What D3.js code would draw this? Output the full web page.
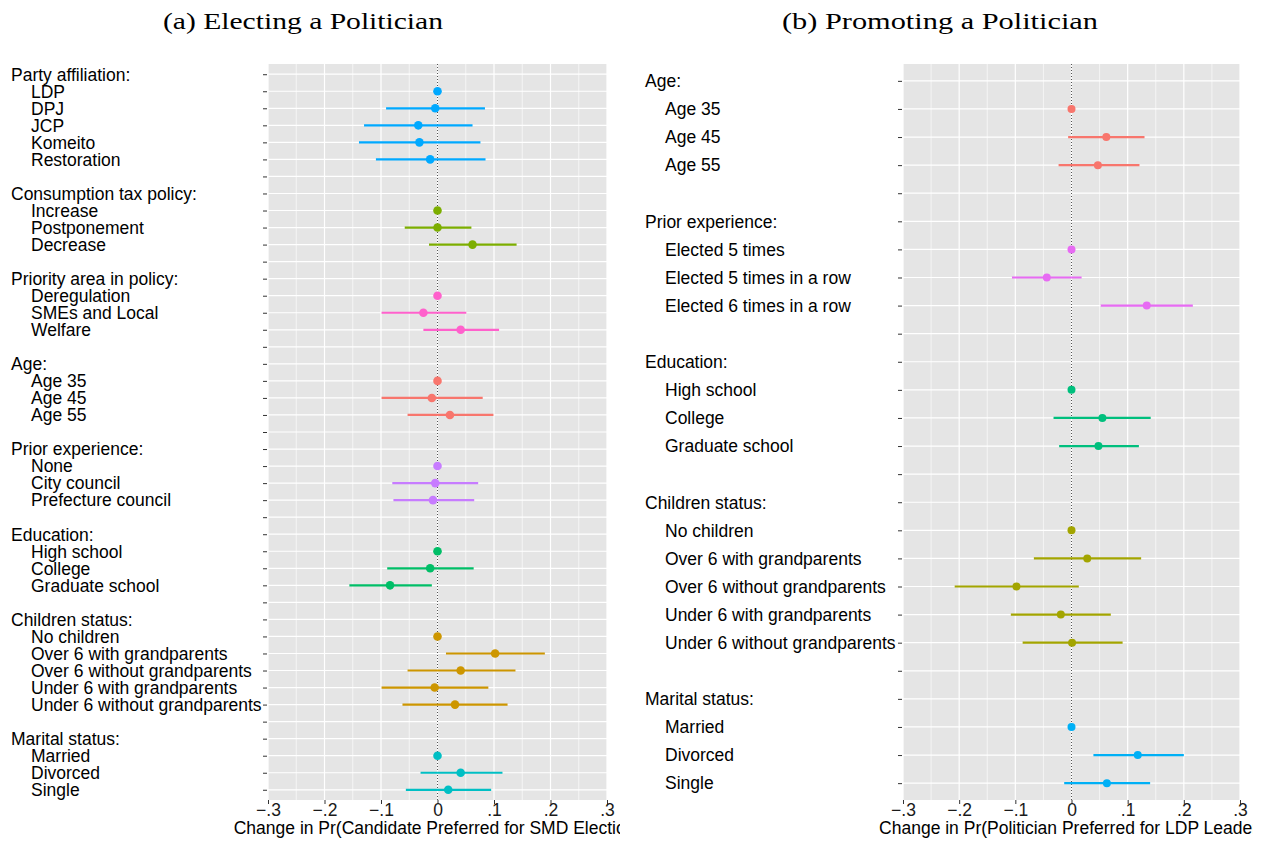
<!DOCTYPE html>
<html>
<head>
<meta charset="utf-8">
<script src="https://cdn.jsdelivr.net/npm/d3@7"></script>
<style>
  body { margin: 0; background: #fff; }
  svg text { font-family: "Liberation Sans", Arial, Helvetica, sans-serif; }
</style>
</head>
<body>
<svg id="chart" width="1263" height="841"></svg>
<script>
// ---- Panel (a): electing a politician ----
const electGroups = [
  "Party affiliation:", "Consumption tax policy:", "Priority area in policy:", "Age:",
  "Prior experience:", "Education:", "Children status:", "Marital status:"
];
const electLevels = [
  ["LDP", "DPJ", "JCP", "Komeito", "Restoration"],
  ["Increase", "Postponement", "Decrease"],
  ["Deregulation", "SMEs and Local", "Welfare"],
  ["Age 35", "Age 45", "Age 55"],
  ["None", "City council", "Prefecture council"],
  ["High school", "College", "Graduate school"],
  ["No children", "Over 6 with grandparents", "Over 6 without grandparents", "Under 6 with grandparents", "Under 6 without grandparents"],
  ["Married", "Divorced", "Single"]
];
const electEst = [
  [0, -0.004, -0.034, -0.032, -0.013],
  [0, 0.000, 0.062],
  [0, -0.025, 0.041],
  [0, -0.010, 0.022],
  [0, -0.004, -0.008],
  [0, -0.013, -0.084],
  [0, 0.102, 0.041, -0.005, 0.031],
  [0, 0.041, 0.019]
];
const electLow = [
  [0, -0.091, -0.130, -0.139, -0.109],
  [0, -0.058, -0.015],
  [0, -0.099, -0.025],
  [0, -0.099, -0.053],
  [0, -0.080, -0.078],
  [0, -0.089, -0.156],
  [0, 0.015, -0.053, -0.099, -0.062],
  [0, -0.030, -0.056]
];
const electHigh = [
  [0, 0.084, 0.062, 0.076, 0.085],
  [0, 0.060, 0.140],
  [0, 0.051, 0.109],
  [0, 0.080, 0.099],
  [0, 0.072, 0.065],
  [0, 0.064, -0.010],
  [0, 0.190, 0.138, 0.090, 0.124],
  [0, 0.115, 0.095]
];
const electColors = ["#00A9FF", "#7CAE00", "#FF61CC", "#F8766D", "#C77CFF", "#00BE67", "#CD9600", "#00BFC4"];

// ---- Panel (b): promoting a politician ----
const promoteGroups = ["Age:", "Prior experience:", "Education:", "Children status:", "Marital status:"];
const promoteLevels = [
  ["Age 35", "Age 45", "Age 55"],
  ["Elected 5 times", "Elected 5 times in a row", "Elected 6 times in a row"],
  ["High school", "College", "Graduate school"],
  ["No children", "Over 6 with grandparents", "Over 6 without grandparents", "Under 6 with grandparents", "Under 6 without grandparents"],
  ["Married", "Divorced", "Single"]
];
const promoteEst = [
  [0, 0.062, 0.047],
  [0, -0.044, 0.134],
  [0, 0.055, 0.048],
  [0, 0.028, -0.098, -0.019, 0.001],
  [0, 0.118, 0.063]
];
const promoteLow = [
  [0, -0.006, -0.023],
  [0, -0.106, 0.052],
  [0, -0.032, -0.022],
  [0, -0.067, -0.208, -0.108, -0.087],
  [0, 0.039, -0.013]
];
const promoteHigh = [
  [0, 0.130, 0.121],
  [0, 0.018, 0.216],
  [0, 0.141, 0.120],
  [0, 0.124, 0.013, 0.070, 0.091],
  [0, 0.200, 0.140]
];
const promoteColors = ["#F8766D", "#E76BF3", "#00BF7D", "#A3A500", "#00B0F6"];

// ---- Shared x axis ----
const xDomain = [-0.3, 0.3];
const xTicks = [-0.3, -0.2, -0.1, 0, 0.1, 0.2, 0.3];
const xTickLabels = ["\u2212.3", "\u2212.2", "\u2212.1", "0", ".1", ".2", ".3"];
const xMinorTicks = [-0.25, -0.15, -0.05, 0.05, 0.15, 0.25];

// Flatten groups into rows: a header row, one row per level, and a spacer between groups
function buildRows(groups, levels, est, low, high) {
  const rows = [];
  groups.forEach((name, gi) => {
    if (gi > 0) rows.push({ key: "s" + gi, type: "spacer", group: gi });
    rows.push({ key: "h" + gi, type: "header", label: name, group: gi });
    levels[gi].forEach((lv, li) => {
      rows.push({
        key: "l" + gi + "_" + li, type: "level", label: lv, group: gi,
        est: est[gi][li], lo: low[gi][li], hi: high[gi][li], ref: li === 0
      });
    });
  });
  return rows;
}

const svg = d3.select("#chart");
const FONT = "17.5px";

function drawPanel(cfg) {
  const g = svg.append("g");
  const x = d3.scaleLinear().domain(xDomain).range([cfg.x0, cfg.x1]);
  const y = d3.scalePoint().domain(cfg.rows.map(d => d.key)).range([cfg.y0, cfg.y1]).padding(0.6);

  // title
  g.append("text")
    .attr("x", cfg.titleX).attr("y", 29)
    .attr("text-anchor", "middle")
    .attr("textLength", cfg.titleW).attr("lengthAdjust", "spacingAndGlyphs")
    .style("font-family", "'Liberation Serif', 'Times New Roman', serif")
    .style("font-size", "24px").attr("fill", "#000")
    .text(cfg.title);

  // panel background
  g.append("rect")
    .attr("x", cfg.x0).attr("y", cfg.y0)
    .attr("width", cfg.x1 - cfg.x0).attr("height", cfg.y1 - cfg.y0)
    .attr("fill", "#E5E5E5");

  // vertical grid: minor then major
  g.selectAll(".vminor").data(xMinorTicks).join("line")
    .attr("x1", d => x(d)).attr("x2", d => x(d))
    .attr("y1", cfg.y0).attr("y2", cfg.y1)
    .attr("stroke", "#fff").attr("stroke-width", 0.6);
  g.selectAll(".vmajor").data(xTicks).join("line")
    .attr("x1", d => x(d)).attr("x2", d => x(d))
    .attr("y1", cfg.y0).attr("y2", cfg.y1)
    .attr("stroke", "#fff").attr("stroke-width", 1.2);

  // horizontal grid at every row
  g.selectAll(".hgrid").data(cfg.rows).join("line")
    .attr("x1", cfg.x0).attr("x2", cfg.x1)
    .attr("y1", d => y(d.key)).attr("y2", d => y(d.key))
    .attr("stroke", "#fff").attr("stroke-width", 1.2);

  // reference line at zero
  g.append("line")
    .attr("x1", x(0)).attr("x2", x(0))
    .attr("y1", cfg.y0).attr("y2", cfg.y1)
    .attr("stroke", "#555").attr("stroke-width", 1)
    .attr("stroke-dasharray", "1,2");

  // y ticks (labels are drawn separately, left aligned)
  const yAx = g.append("g")
    .attr("transform", `translate(${cfg.x0 - 1},0)`)
    .call(d3.axisLeft(y).tickSize(4).tickFormat(""));
  yAx.select(".domain").remove();
  yAx.selectAll(".tick line").attr("stroke", "#333");

  // x axis
  const xAx = g.append("g")
    .attr("transform", `translate(0,${cfg.y1})`)
    .call(d3.axisBottom(x).tickValues(xTicks).tickSize(4).tickPadding(0)
      .tickFormat((d, i) => xTickLabels[i]));
  xAx.select(".domain").remove();
  xAx.selectAll(".tick line").attr("stroke", "#333");
  xAx.selectAll(".tick text")
    .attr("fill", "#1a1a1a")
    .style("font-size", FONT)
    .style("font-family", "'Liberation Sans', Arial, sans-serif");

  // row labels
  g.selectAll(".rowlab").data(cfg.rows.filter(d => d.type !== "spacer")).join("text")
    .attr("x", d => d.type === "header" ? cfg.headX : cfg.levelX)
    .attr("y", d => y(d.key)).attr("dy", "0.36em")
    .attr("fill", "#000")
    .style("font-size", FONT)
    .text(d => d.label);

  // estimates with confidence intervals
  const lv = cfg.rows.filter(d => d.type === "level");
  g.selectAll(".ci").data(lv.filter(d => !d.ref)).join("line")
    .attr("x1", d => x(d.lo)).attr("x2", d => x(d.hi))
    .attr("y1", d => y(d.key)).attr("y2", d => y(d.key))
    .attr("stroke", d => cfg.colors[d.group]).attr("stroke-width", 2.2);
  g.selectAll(".pt").data(lv).join("circle")
    .attr("cx", d => x(d.est)).attr("cy", d => y(d.key))
    .attr("r", cfg.r)
    .attr("fill", d => cfg.colors[d.group]);

  // x axis title, cut off at the figure edge
  const clipId = "clip" + cfg.id;
  svg.append("clipPath").attr("id", clipId)
    .append("rect").attr("x", cfg.clipL).attr("y", 0)
    .attr("width", cfg.clipR - cfg.clipL).attr("height", 841);
  g.append("text")
    .attr("clip-path", `url(#${clipId})`)
    .attr("x", (cfg.x0 + cfg.x1) / 2).attr("y", 834)
    .attr("text-anchor", "middle")
    .attr("fill", "#000")
    .style("font-size", FONT)
    .text(cfg.axisTitle);
}

drawPanel({
  id: "a",
  title: "(a) Electing a Politician", titleX: 303, titleW: 280,
  rows: buildRows(electGroups, electLevels, electEst, electLow, electHigh),
  colors: electColors,
  x0: 268, x1: 607, y0: 64, y1: 800,
  headX: 11, levelX: 31, r: 4.3,
  axisTitle: "Change in Pr(Candidate Preferred for SMD Election)",
  clipL: 0, clipR: 620
});

drawPanel({
  id: "b",
  title: "(b) Promoting a Politician", titleX: 940, titleW: 316,
  rows: buildRows(promoteGroups, promoteLevels, promoteEst, promoteLow, promoteHigh),
  colors: promoteColors,
  x0: 903, x1: 1240, y0: 64, y1: 800,
  headX: 645, levelX: 665, r: 4,
  axisTitle: "Change in Pr(Politician Preferred for LDP Leader)",
  clipL: 630, clipR: 1253
});
</script>
</body>
</html>
